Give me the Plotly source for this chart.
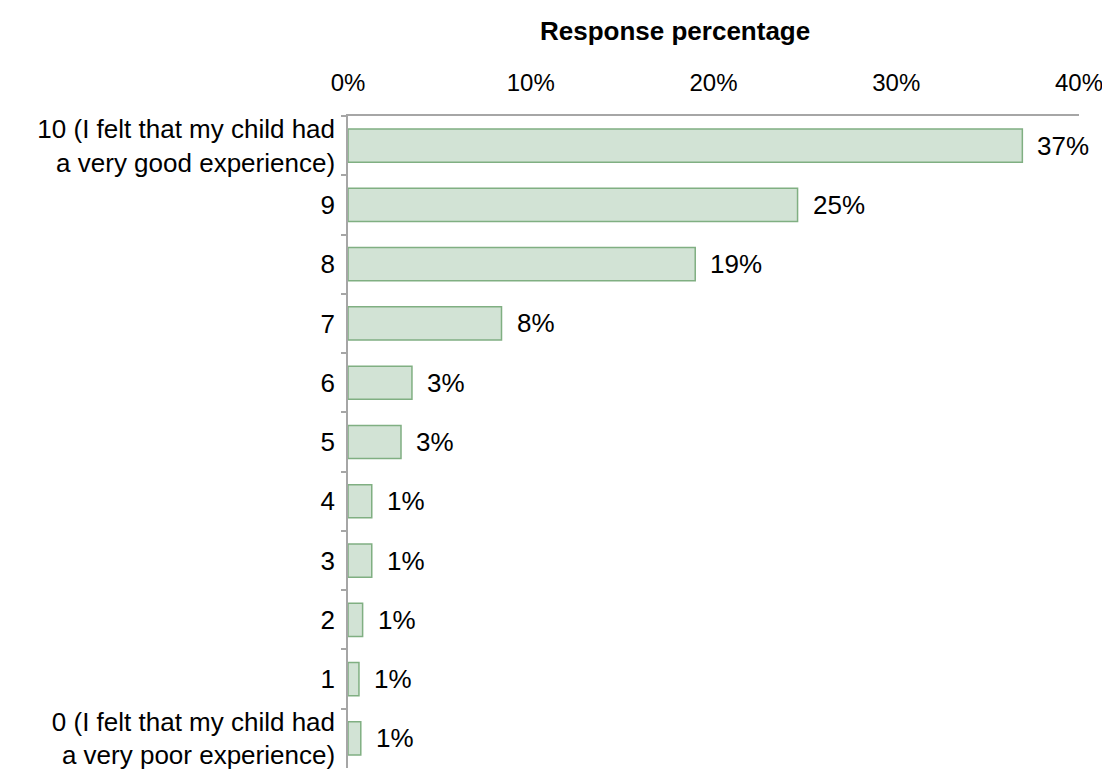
import plotly.graph_objects as go

categories = ["10 (I felt that my child had<br>a very good experience)", "9", "8", "7", "6", "5", "4", "3", "2", "1",
              "0 (I felt that my child had<br>a very poor experience)"]
values = [36.9, 24.6, 19.0, 8.4, 3.5, 2.9, 1.3, 1.3, 0.8, 0.6, 0.7]
labels = ["37%", "25%", "19%", "8%", "3%", "3%", "1%", "1%", "1%", "1%", "1%"]

font_family = "Liberation Sans, Arial, sans-serif"
FS = 26

OFF = 7  # page body offset in the screenshot
W, H = 1102, 774  # end exactly at the window edge so no scrollbars appear
L, T = 347 - OFF, 115 - OFF
PW, PH = 731, 652
R, B = W - L - PW, H - T - PH

fig = go.Figure(go.Bar(
    y=categories, x=values, orientation="h",
    marker=dict(color="#D2E3D5", line=dict(color="#80AF82", width=1.5)),
    width=0.56, hoverinfo="x+y",
))

# data labels: positioned at each bar's value (category given by its index)
annotations = [dict(x=v, y=i, xref="x", yref="y", text=t, showarrow=False, xanchor="left",
                    yanchor="middle", xshift=13, font=dict(size=FS, family=font_family, color="#000000"))
               for i, (v, t) in enumerate(zip(values, labels))]
annotations.append(dict(text="<b>Response percentage</b>", xref="paper", yref="paper",
                        x=(674 - OFF - L) / PW, y=1 + (T - (30 - OFF)) / PH,
                        xanchor="center", yanchor="middle", showarrow=False,
                        font=dict(size=FS, family=font_family, color="#000000")))

fig.update_layout(
    template="none",
    width=W, height=H,
    margin=dict(l=L, r=R, t=T, b=B, autoexpand=False),
    paper_bgcolor="white", plot_bgcolor="white",
    showlegend=False,
    font=dict(family=font_family, size=FS, color="#000000"),
    annotations=annotations,
)

fig.update_xaxes(type="linear", side="top", range=[0, 40], dtick=10, ticksuffix="%", showgrid=False,
                 showline=True, linecolor="#A6A6A6", linewidth=1.5, ticks="", zeroline=False,
                 ticklabelstandoff=14, ticklabeloverflow="allow", automargin=False, tickfont=dict(size=24))
fig.update_yaxes(type="category", categoryorder="array", categoryarray=categories,
                 autorange="reversed", showgrid=False, showline=True, linecolor="#A6A6A6", linewidth=1.5,
                 ticks="outside", tickson="boundaries", ticklen=5, tickcolor="#A6A6A6", tickwidth=1.5,
                 ticklabelstandoff=6, automargin=False, zeroline=False, tickfont=dict(size=FS))

fig.write_html("out.html")
